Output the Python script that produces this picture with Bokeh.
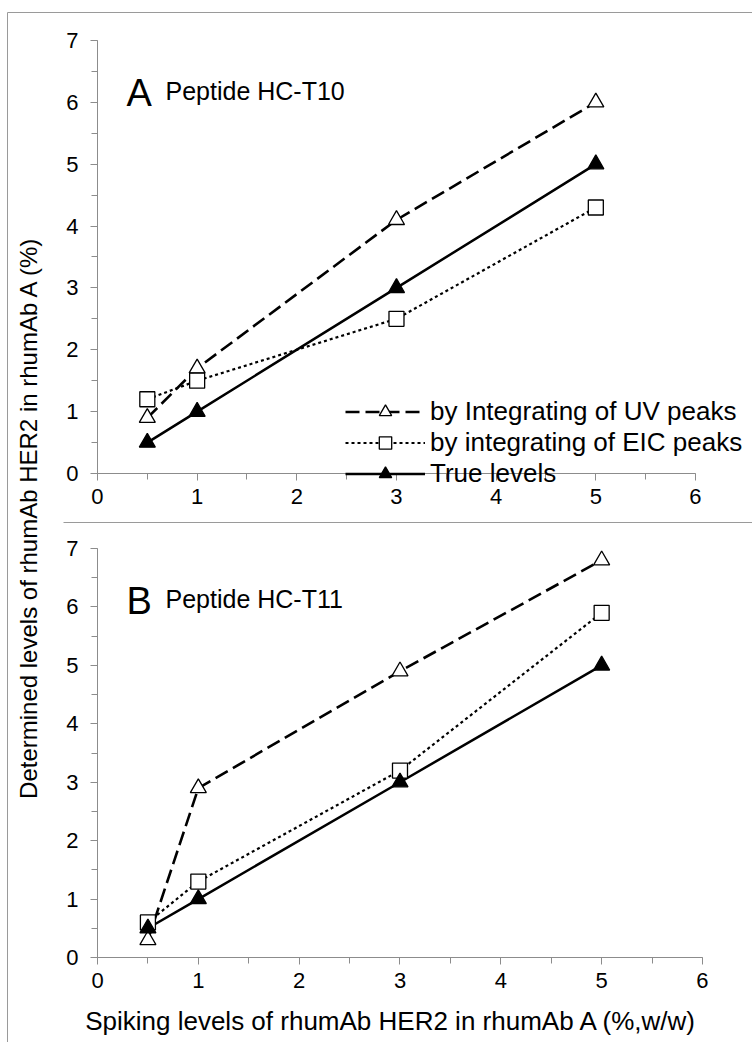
from math import pi
from bokeh.plotting import figure
from bokeh.models import Range1d, LinearAxis, SingleIntervalTicker, Legend, LegendItem
from bokeh.embed import file_html
from bokeh.resources import INLINE
from bokeh.core.properties import value

# ---------------- data ----------------
spiking = [0.5, 1, 3, 5]
a_uv = [0.9, 1.7, 4.1, 6.0]
a_eic = [1.2, 1.5, 2.5, 4.3]
a_true = [0.5, 1.0, 3.0, 5.0]
b_uv = [0.3, 2.9, 4.9, 6.8]
b_eic = [0.6, 1.3, 3.2, 5.9]
b_true = [0.5, 1.0, 3.0, 5.0]
legend_labels = ["by Integrating of UV peaks", "by integrating of EIC peaks", "True levels"]
panel_letters = ["A", "B"]
panel_names = ["Peptide HC-T10", "Peptide HC-T11"]
x_title = "Spiking levels of rhumAb HER2 in rhumAb A (%,w/w)"
y_title = "Determined levels of rhumAb HER2 in rhumAb A (%)"

W, H = 752, 1042
FONT = "Liberation Sans"
GRAY = "#8c8c8c"

p = figure(width=W, height=H, x_range=Range1d(-0.962, 6.496), y_range=Range1d(-1.455, 16.38),
           x_axis_type=None, y_axis_type=None, toolbar_location=None,
           output_backend="svg", min_border=0)
p.outline_line_color = None
p.background_fill_color = "white"
p.border_fill_color = "white"
p.extra_x_ranges = {"xA": Range1d(-0.973, 6.572), "px": Range1d(0, W)}
p.extra_y_ranges = {"A": Range1d(-9.198, 7.646), "py": Range1d(H, 0)}


def style_axis(ax):
    ax.axis_line_color = GRAY
    ax.major_tick_line_color = GRAY
    ax.minor_tick_line_color = GRAY
    ax.major_label_text_font = FONT
    ax.major_label_text_font_size = "22px"
    ax.major_label_text_color = "black"
    ax.major_tick_in = 0
    ax.minor_tick_in = 0
    ax.major_tick_out = 7
    ax.minor_tick_out = 6


for xr, yr in [("xA", "A"), ("default", "default")]:
    xa = LinearAxis(x_range_name=xr, y_range_name=yr, fixed_location=0, bounds=(0, 6),
                    ticker=SingleIntervalTicker(interval=1, num_minor_ticks=2))
    style_axis(xa)
    xa.major_label_standoff = 9
    p.add_layout(xa, "below")
    ya = LinearAxis(x_range_name=xr, y_range_name=yr, fixed_location=0, bounds=(0, 7),
                    ticker=SingleIntervalTicker(interval=1, num_minor_ticks=2))
    style_axis(ya)
    ya.major_label_standoff = 12
    p.add_layout(ya, "left")

# frame decoration lines (page border and panel separator)
p.segment(x0=[7, 7, 63], y0=[12, 12, 522], x1=[W, 7, W], y1=[12, H, 522],
          line_color="#9a9a9a", line_width=1, x_range_name="px", y_range_name="py")

styles = [
    dict(dash="14 6", width=2.6, marker="triangle", fill="white", size=16),
    dict(dash="3 3", width=2.2, marker="square", fill="white", size=15),
    dict(dash="solid", width=2.5, marker="triangle", fill="black", size=16),
]

legend_renderers = []
for xr, yr, series in [("xA", "A", [a_uv, a_eic, a_true]), ("default", "default", [b_uv, b_eic, b_true])]:
    rs = []
    for ys, st in zip(series, styles):
        l = p.line(spiking, ys, line_color="black", line_width=st["width"], line_dash=st["dash"],
                   x_range_name=xr, y_range_name=yr)
        rs.append(l)
    ms = []
    for ys, st in zip(series, styles):
        m = p.scatter(spiking, ys, marker=st["marker"], size=st["size"], fill_color=st["fill"],
                      line_color="black", line_width=1.3, x_range_name=xr, y_range_name=yr)
        ms.append(m)
    if xr == "xA":
        legend_renderers = list(zip(rs, ms))

legend = Legend(items=[LegendItem(label=lab, renderers=[l, m]) for lab, (l, m) in zip(legend_labels, legend_renderers)],
                location=(345, 553))
legend.background_fill_alpha = 0
legend.border_line_color = None
legend.padding = 0
legend.margin = 0
legend.spacing = 0
legend.glyph_width = 80
legend.glyph_height = 31
legend.label_height = 31
legend.label_standoff = 5
legend.label_text_font = FONT
legend.label_text_font_size = "26px"
legend.label_text_color = "black"
p.add_layout(legend)

# panel labels
p.text(x=[126, 126], y=[92, 600], text=panel_letters, text_font=value(FONT), text_font_size="38px",
       text_color="black", text_baseline="alphabetic", text_align="left",
       x_range_name="px", y_range_name="py")
p.text(x=[165, 165], y=[90, 598], text=panel_names, text_font=value(FONT), text_font_size="25px",
       text_color="black", text_baseline="alphabetic", text_align="left",
       x_range_name="px", y_range_name="py")

# axis titles
p.text(x=[391], y=[1020], text=[x_title], text_font=value(FONT), text_font_size="26px",
       text_color="black", text_baseline="middle", text_align="center",
       x_range_name="px", y_range_name="py")
p.text(x=[28], y=[517], text=[y_title], text_font=value(FONT), text_font_size="24px",
       text_color="black", text_baseline="middle", text_align="center", angle=pi / 2,
       x_range_name="px", y_range_name="py")

open("out.html", "w").write(file_html(p, INLINE))
